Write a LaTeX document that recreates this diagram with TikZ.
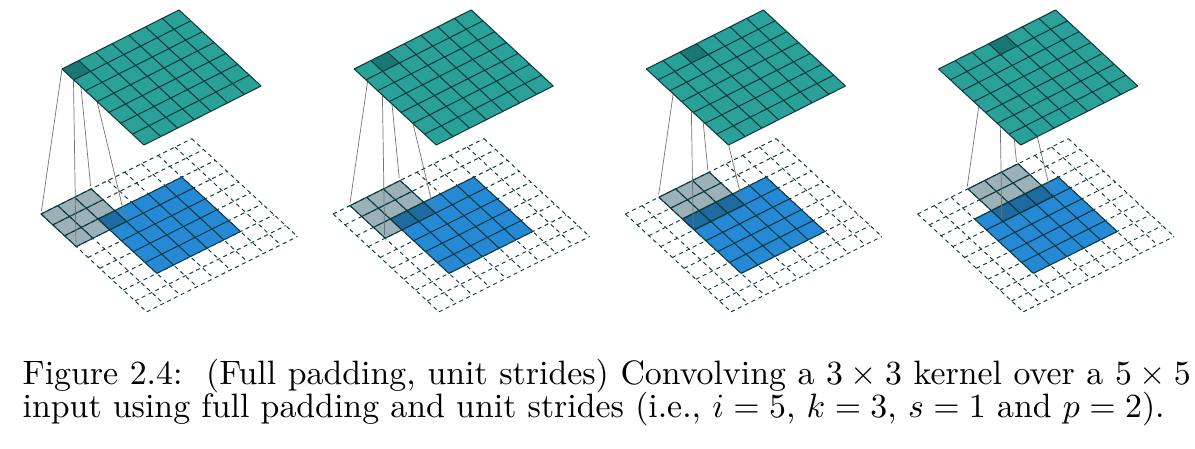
\documentclass[tikz,border=0pt]{standalone}
\usepackage{amsmath}
\usepackage{xcolor}
\usetikzlibrary{positioning}
\definecolor{gridcolor}{HTML}{0D3B40}
\definecolor{outputcolor}{HTML}{2AA198}
\definecolor{activecolor}{HTML}{187873}
\definecolor{inputcolor}{HTML}{2589D6}
\definecolor{kernelcolor}{HTML}{144356}
% lines of a square block of cells
\newcommand{\cellgrid}[4]{%
    \foreach \g in {0,...,#3} {
        \draw[#4] (#1+\g,#2) -- (#1+\g,#2+#3);
        \draw[#4] (#1,#2+\g) -- (#1+#3,#2+\g);
    }
}
\newcommand{\convpanel}[1]{%
    \pgfmathsetmacro{\shiftx}{292.2*#1}
    % input plane
    \begin{scope}[cm={16.75,8.37,11.75,-10.87,(41pt+\shiftx pt,235pt)}]
        \cellgrid{0}{0}{9}{padline}
        \fill[inputplane] (2,2) rectangle (7,7);
        \cellgrid{2}{2}{5}{solidline}
        \fill[kernelplane] (#1,0) rectangle (#1+3,3);
        \cellgrid{#1}{0}{3}{solidline}
        \coordinate (inA#1) at (#1,0);
        \coordinate (inB#1) at (#1+3,0);
        \coordinate (inC#1) at (#1,3);
        \coordinate (inD#1) at (#1+3,3);
    \end{scope}
    % output plane
    \begin{scope}[cm={16.72,8.43,11.72,-10.86,(62pt+\shiftx pt,380pt)}]
        \coordinate (outA#1) at (#1,0);
        \coordinate (outB#1) at (#1+1,0);
        \coordinate (outC#1) at (#1,1);
        \coordinate (outD#1) at (#1+1,1);
        \draw[link] (inA#1) -- (outA#1);
        \draw[link] (inB#1) -- (outB#1);
        \draw[link] (inC#1) -- (outC#1);
        \draw[link] (inD#1) -- (outD#1);
        \fill[outputplane] (0,0) rectangle (7,7);
        \fill[activecolor] (#1,0) rectangle (#1+1,1);
        \cellgrid{0}{0}{7}{solidline}
    \end{scope}
}
\begin{document}
\begin{tikzpicture}[
    x=1pt,y=1pt,
    padline/.style={draw=gridcolor,line width=0.95pt,dash pattern=on 4pt off 3.6pt},
    solidline/.style={draw=gridcolor,line width=1.05pt},
    inputplane/.style={fill=inputcolor},
    kernelplane/.style={fill=kernelcolor,fill opacity=0.42},
    outputplane/.style={fill=outputcolor},
    link/.style={draw=black!55,line width=0.7pt},
    caption/.style={anchor=base west,inner sep=0pt,scale=3.383}
]
\useasboundingbox (0,0) rectangle (1195,449);
\foreach \k in {0,1,2,3} {\convpanel{\k}}
\node[caption] (line1) at (22,64) {\makebox[345.3pt][s]{Figure 2.4:\hspace{0.7em}(Full padding, unit strides) Convolving a $3\times3$ kernel over a $5\times5$}};
\node[caption] (line2) at (22,31) {input using full padding and unit strides (i.e., $i=5$, $k=3$, $s=1$ and $p=2$).};
\end{tikzpicture}
\end{document}
